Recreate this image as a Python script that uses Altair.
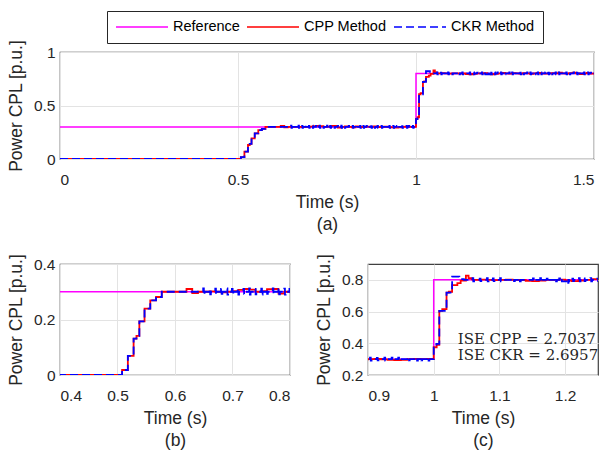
import altair as alt
import pandas as pd

# ---------------- data ----------------
names = ["Reference", "CPP Method", "CKR Method"]
colors = ["#ff00ff", "#ff0000", "#0000ff"]

ref_t = [0.0, 1.0, 1.5]
ref_v = [0.3, 0.8, 0.8]

# first transient (0 -> 0.3), common to both controllers
rise1_t = [0.0, 0.508, 0.518, 0.528, 0.533, 0.538, 0.547, 0.557, 0.567, 0.577]
rise1_v = [0.0, 0.018, 0.069, 0.131, 0.141, 0.193, 0.239, 0.269, 0.281, 0.300]

# CPP (red) around 0.3, samples every 0.01 s from 0.59 s
cpp_mid_t0 = 0.59
cpp_mid_v = [0.300, 0.300, 0.300, 0.310, 0.295, 0.300, 0.300, 0.301, 0.300, 0.298,
             0.300, 0.302, 0.307, 0.310, 0.308, 0.300, 0.302, 0.309, 0.310, 0.293,
             0.300, 0.305, 0.300, 0.296, 0.304, 0.300, 0.297, 0.303, 0.300, 0.304,
             0.298, 0.300, 0.302, 0.298, 0.295, 0.294, 0.296, 0.300, 0.302, 0.300,
             0.301]

# second transient (0.3 -> 0.8)
cpp_rise2_t = [1.0, 1.0045, 1.0085, 1.013, 1.0195, 1.023, 1.028, 1.036, 1.041, 1.049, 1.053, 1.058]
cpp_rise2_v = [0.375, 0.390, 0.605, 0.615, 0.720, 0.725, 0.767, 0.780, 0.795, 0.827, 0.810, 0.803]

# CPP (red) around 0.8, samples every 0.01 s from 1.06 s
cpp_end_t0 = 1.06
cpp_end_v = [0.800, 0.802, 0.800, 0.798, 0.800, 0.801, 0.800, 0.799, 0.793, 0.792,
             0.795, 0.800, 0.800, 0.802, 0.796, 0.792, 0.796, 0.800, 0.804, 0.800,
             0.798, 0.802, 0.800, 0.797, 0.803, 0.800, 0.796, 0.800, 0.804, 0.800,
             0.797, 0.800, 0.803, 0.800, 0.806, 0.800, 0.797, 0.803, 0.806, 0.800,
             0.794, 0.800, 0.804, 0.798, 0.798]

# CKR (blue): level changes
ckr_level_t = [0.577, 1.0, 1.004, 1.0085, 1.0195, 1.028, 1.039, 1.046, 1.195, 1.205, 1.5]
ckr_level_v = [0.300, 0.372, 0.396, 0.605, 0.720, 0.820, 0.805, 0.800, 0.790, 0.800, 0.800]

# CKR (blue) short spikes seen as ticks on the settled parts
ckr_spike_t = [0.649, 0.66, 0.67, 0.68, 0.69, 0.699, 0.709, 0.719, 0.729, 0.739, 0.75, 0.759,
               0.77, 0.78, 0.79, 0.799, 0.811, 0.822, 0.831, 0.843, 0.852, 0.861, 0.874,
               0.883, 0.892, 0.903, 0.9135, 0.925, 0.936, 0.946, 0.961, 0.9735, 0.98, 0.991,
               1.059, 1.07, 1.081, 1.09, 1.101, 1.121, 1.13, 1.151, 1.162, 1.172, 1.185,
               1.191, 1.2035, 1.211, 1.221, 1.2285, 1.2385, 1.249, 1.262, 1.27, 1.281,
               1.293, 1.301, 1.312, 1.321, 1.333, 1.342, 1.351, 1.363, 1.372, 1.381,
               1.392, 1.401, 1.413, 1.422, 1.431, 1.443, 1.452, 1.461, 1.472, 1.483, 1.491]
ckr_spike_up = [0.012, 0.010, 0.011, 0.010, 0.012, 0.010, 0.011, 0.010, 0.012, 0.010, 0.011, 0.010,
                0.012, 0.010, 0.011, 0.010, 0.009, 0.010, 0.008, 0.010, 0.009, 0.010, 0.008,
                0.010, 0.009, 0.010, 0.008, 0.010, 0.009, 0.010, 0.008, 0.010, 0.009, 0.010,
                0.010, 0.008, 0.010, 0.009, 0.010, 0.008, 0.010, 0.009, 0.010, 0.008, 0.010,
                0.009, 0.010, 0.008, 0.010, 0.009, 0.010, 0.008, 0.010, 0.009, 0.010,
                0.008, 0.010, 0.009, 0.010, 0.008, 0.010, 0.009, 0.010, 0.008, 0.010,
                0.009, 0.010, 0.008, 0.010, 0.009, 0.010, 0.008, 0.010, 0.009, 0.010, 0.008]
ckr_spike_dn = [0.010, 0.009, 0.010, 0.008, 0.010, 0.009, 0.010, 0.008, 0.010, 0.009, 0.010, 0.008,
                0.010, 0.009, 0.010, 0.008, 0.008, 0.009, 0.008, 0.009, 0.008, 0.009, 0.008,
                0.009, 0.008, 0.009, 0.008, 0.009, 0.008, 0.009, 0.008, 0.009, 0.008, 0.009,
                0.009, 0.008, 0.009, 0.008, 0.009, 0.008, 0.009, 0.008, 0.009, 0.008, 0.009,
                0.008, 0.009, 0.008, 0.009, 0.008, 0.009, 0.008, 0.009, 0.008, 0.009,
                0.008, 0.009, 0.008, 0.009, 0.008, 0.009, 0.008, 0.009, 0.008, 0.009,
                0.008, 0.009, 0.008, 0.009, 0.008, 0.009, 0.008, 0.009, 0.008, 0.009, 0.008]

ise_lines = ["ISE CPP = 2.7037", "ISE CKR = 2.6957"]
ise_x = [1.0365, 1.0365]
ise_y = [0.429, 0.323]

# ---------------- build the tables ----------------
def grid_times(t0, n):
    return [round(t0 + 0.01 * i, 4) for i in range(n)]

cpp_t = rise1_t + grid_times(cpp_mid_t0, len(cpp_mid_v)) + cpp_rise2_t + grid_times(cpp_end_t0, len(cpp_end_v)) + [1.5]
cpp_v = rise1_v + cpp_mid_v + cpp_rise2_v + cpp_end_v + [cpp_end_v[-1]]

def level_at(t):
    val = rise1_v[-1]
    for lt, lv in zip(ckr_level_t, ckr_level_v):
        if lt <= t:
            val = lv
    return val

ckr_pts = list(zip(rise1_t, rise1_v)) + list(zip(ckr_level_t, ckr_level_v))
for s, up, dn in zip(ckr_spike_t, ckr_spike_up, ckr_spike_dn):
    b = level_at(s)
    ckr_pts += [(s, b + up), (s + 0.0012, b - dn), (s + 0.0024, b)]
ckr_pts.sort(key=lambda p: p[0])

df_ref = pd.DataFrame({"t": ref_t, "v": ref_v, "series": names[0]})
df_cpp = pd.DataFrame({"t": cpp_t, "v": cpp_v, "series": names[1]})
df_ckr = pd.DataFrame({"t": [p[0] for p in ckr_pts], "v": [p[1] for p in ckr_pts], "series": names[2]})

FONT = "Liberation Sans"
TICK_FS = 15.5
TITLE_FS = 17.5

legend = alt.Legend(
    title=None, orient="none", legendX=47, legendY=-41, direction="horizontal",
    symbolType="stroke", symbolSize=2704, symbolStrokeWidth=1.6, clipHeight=16,
    labelFont=FONT, labelFontSize=14.5, labelColor="#000000", labelOffset=4,
    columnPadding=6, padding=8, strokeColor="#262626", fillColor="#ffffff",
)
color = alt.Color("series:N", scale=alt.Scale(domain=names, range=colors), legend=legend)
dash = alt.StrokeDash("series:N", scale=alt.Scale(domain=names, range=[[1, 0], [1, 0], [8, 4]]), legend=legend)


def panel(xdom, ydom, xticks, yticks, w, h, xtitle, texts=False):
    x = alt.X("t:Q", scale=alt.Scale(domain=xdom, nice=False, zero=False),
              axis=alt.Axis(values=xticks, format="~g", title=xtitle))
    y = alt.Y("v:Q", scale=alt.Scale(domain=ydom, nice=False, zero=False),
              axis=alt.Axis(values=yticks, format="~g", title="Power CPL [p.u.]"))
    layers = []
    for df, sw in [(df_ref, 1.5), (df_cpp, 1.8), (df_ckr, 1.8)]:
        layers.append(
            alt.Chart(df).mark_line(interpolate="step-after", strokeWidth=sw, clip=True)
            .encode(x=x, y=y, color=color, strokeDash=dash)
        )
    if texts:
        tdf = pd.DataFrame({"t": ise_x, "v": ise_y, "label": ise_lines})
        layers.append(
            alt.Chart(tdf).mark_text(align="left", baseline="middle", font="DejaVu Serif",
                                     fontSize=15, color="#262626")
            .encode(x=x, y=y, text="label:N")
        )
    return alt.layer(*layers).properties(width=w, height=h)


pa = panel([0, 1.5], [0, 1], [0, 0.5, 1, 1.5], [0, 0.5, 1], 534, 107, ["Time (s)", "(a)"])
pb = panel([0.4, 0.8], [0, 0.4], [0.4, 0.5, 0.6, 0.7, 0.8], [0, 0.2, 0.4], 230, 111, ["Time (s)", "(b)"])
pc = panel([0.9, 1.25], [0.2, 0.9], [0.9, 1.0, 1.1, 1.2], [0.2, 0.4, 0.6, 0.8], 230, 111, ["Time (s)", "(c)"], texts=True)

chart = alt.vconcat(pa, alt.hconcat(pb, pc, spacing=23), spacing=18).properties(
    padding={"left": 6, "top": 10, "right": 0, "bottom": 0}
).configure_view(stroke="#404040", strokeWidth=1.2).configure_axis(
    domain=False, ticks=False, grid=True, gridColor="#e3e3e3", gridWidth=1,
    labelFont=FONT, labelFontSize=TICK_FS, labelColor="#262626",
    titleFont=FONT, titleFontSize=TITLE_FS, titleFontWeight="normal", titleColor="#262626",
).configure_axisX(labelPadding=13, titlePadding=6, titleLineHeight=22
).configure_axisY(labelPadding=5, titlePadding=8)

chart.save("out.html", embed_options={"renderer": "svg", "actions": False})
